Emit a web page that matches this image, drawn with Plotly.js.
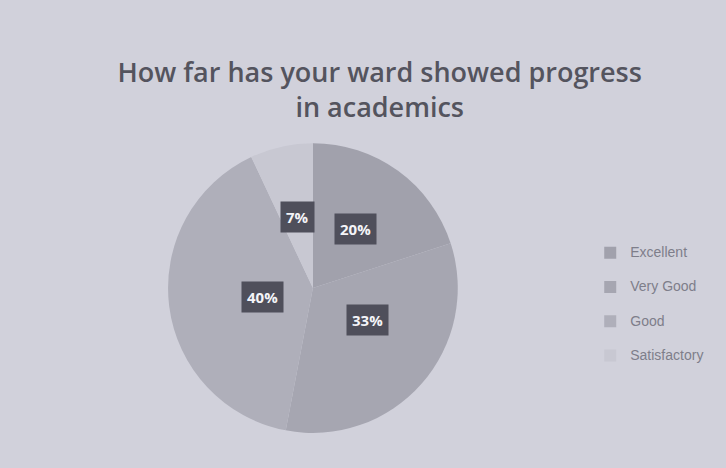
<!DOCTYPE html>
<html>
<head>
<meta charset="utf-8">
<script src="https://cdn.plot.ly/plotly-3.0.1.min.js"></script>
<style>
  html, body { margin: 0; padding: 0; background: #d1d1db; }
  #chart { width: 726px; height: 468px; }
</style>
</head>
<body>
<div id="chart"></div>
<script>
const categories = ["Excellent", "Very Good", "Good", "Satisfactory"];
const values = [20, 33, 40, 7];
const sliceColors = ["#a1a1ac", "#a6a6b1", "#afafba", "#c8c8d2"];
const titleText = "How far has your ward showed progress<br>in academics";

// pie domain (paper coords)
const dom = { x: [0.231, 0.631], y: [0.075, 0.694] };

// label annotations positioned from the data (angles from cumulative shares)
const total = values.reduce((a, b) => a + b, 0);
const W = 726, H = 468;
const cx = (dom.x[0] + dom.x[1]) / 2, cy = (dom.y[0] + dom.y[1]) / 2;
const Rpx = Math.min((dom.x[1] - dom.x[0]) * W, (dom.y[1] - dom.y[0]) * H) / 2;
let cum = 0;
const annotations = values.map((v, i) => {
  const mid = (cum + v / 2) / total * 2 * Math.PI;
  cum += v;
  const r = 0.5 * Rpx;
  return {
    xref: "paper", yref: "paper",
    x: cx + r * Math.sin(mid) / W,
    y: cy + r * Math.cos(mid) / H,
    text: "<b>" + Math.round(v / total * 100) + "%</b>",
    showarrow: false,
    bgcolor: "#4f4f5b",
    borderpad: 5,
    font: { family: "Open Sans, sans-serif", size: 15, color: "#f4f4f8" }
  };
});

// legend labels: small text inside a taller legend line
const legendNames = categories.map(c => "<span style='font-size:14px;baseline-shift:5px'>" + c + "</span>");

const trace = {
  type: "pie",
  labels: legendNames,
  values: values,
  sort: false,
  direction: "clockwise",
  rotation: 0,
  marker: { colors: sliceColors, line: { color: "rgba(0,0,0,0)", width: 0 } },
  textinfo: "none",
  hoverinfo: "percent",
  domain: dom
};

const layout = {
  width: 726, height: 468,
  margin: { l: 0, r: 0, t: 0, b: 0 },
  paper_bgcolor: "#d1d1db",
  plot_bgcolor: "#d1d1db",
  title: {
    text: titleText,
    x: 0.523, xanchor: "center",
    y: 0.825, yanchor: "top",
    font: { family: "Open Sans, sans-serif", size: 27, color: "#54545e", weight: 600 }
  },
  showlegend: true,
  legend: {
    x: 0.813, y: 0.35, xanchor: "left", yanchor: "middle",
    font: { family: "Liberation Sans, sans-serif", size: 24, color: "#7e7e8a" },
    bgcolor: "rgba(0,0,0,0)"
  },
  annotations: annotations
};

Plotly.newPlot("chart", [trace], layout, { displayModeBar: false, staticPlot: true });
</script>
</body>
</html>
